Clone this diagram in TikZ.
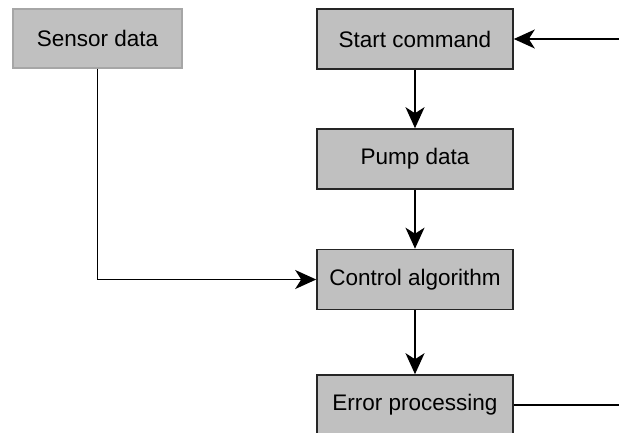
\documentclass[tikz,border=0pt]{standalone}
\usepackage{fontspec}
\setmainfont{Liberation Sans}
\usetikzlibrary{arrows.meta}
\definecolor{boxgray}{RGB}{192,192,192}
\tikzset{
  block/.style={draw=black!85, line width=1.6pt, fill=boxgray, inner sep=0pt,
    minimum width=196pt, minimum height=60pt, font=\fontsize{22.5}{27}\selectfont},
  source/.style={block, draw=black!35, line width=1.2pt, minimum width=169pt, minimum height=59pt},
  flow/.style={line width=1.6pt, -{Stealth[length=21pt,width=19pt,inset=6pt]}},
  wire/.style={line width=1.6pt}
}
\begin{document}
\begin{tikzpicture}[x=1pt,y=-1pt]
  \clip (0,0) rectangle (619,432);
  \useasboundingbox (0,0) rectangle (619,432);
  % blocks
  \node[source] (sensor) at (97.5,38.5) {Sensor data};
  \node[block] (start) at (415,39) {Start command};
  \node[block] (pump) at (415,159) {Pump data};
  \node[block] (ctrl) at (415,279.5) {Control algorithm};
  \node[block, minimum height=60pt] (err) at (415,405) {Error processing};
  % free ends at the right margin
  \coordinate (cmdin) at (619,39);
  \coordinate (errout) at (619,405);
  % connections
  \draw[flow] (cmdin) -- (start.east);
  \draw[flow] (start) -- (pump);
  \draw[flow] (pump) -- (ctrl);
  \draw[flow] (ctrl) -- (err);
  \draw[flow] (sensor.south) |- (ctrl.west);
  \draw[wire] (err.east) -- (errout);
\end{tikzpicture}
\end{document}
